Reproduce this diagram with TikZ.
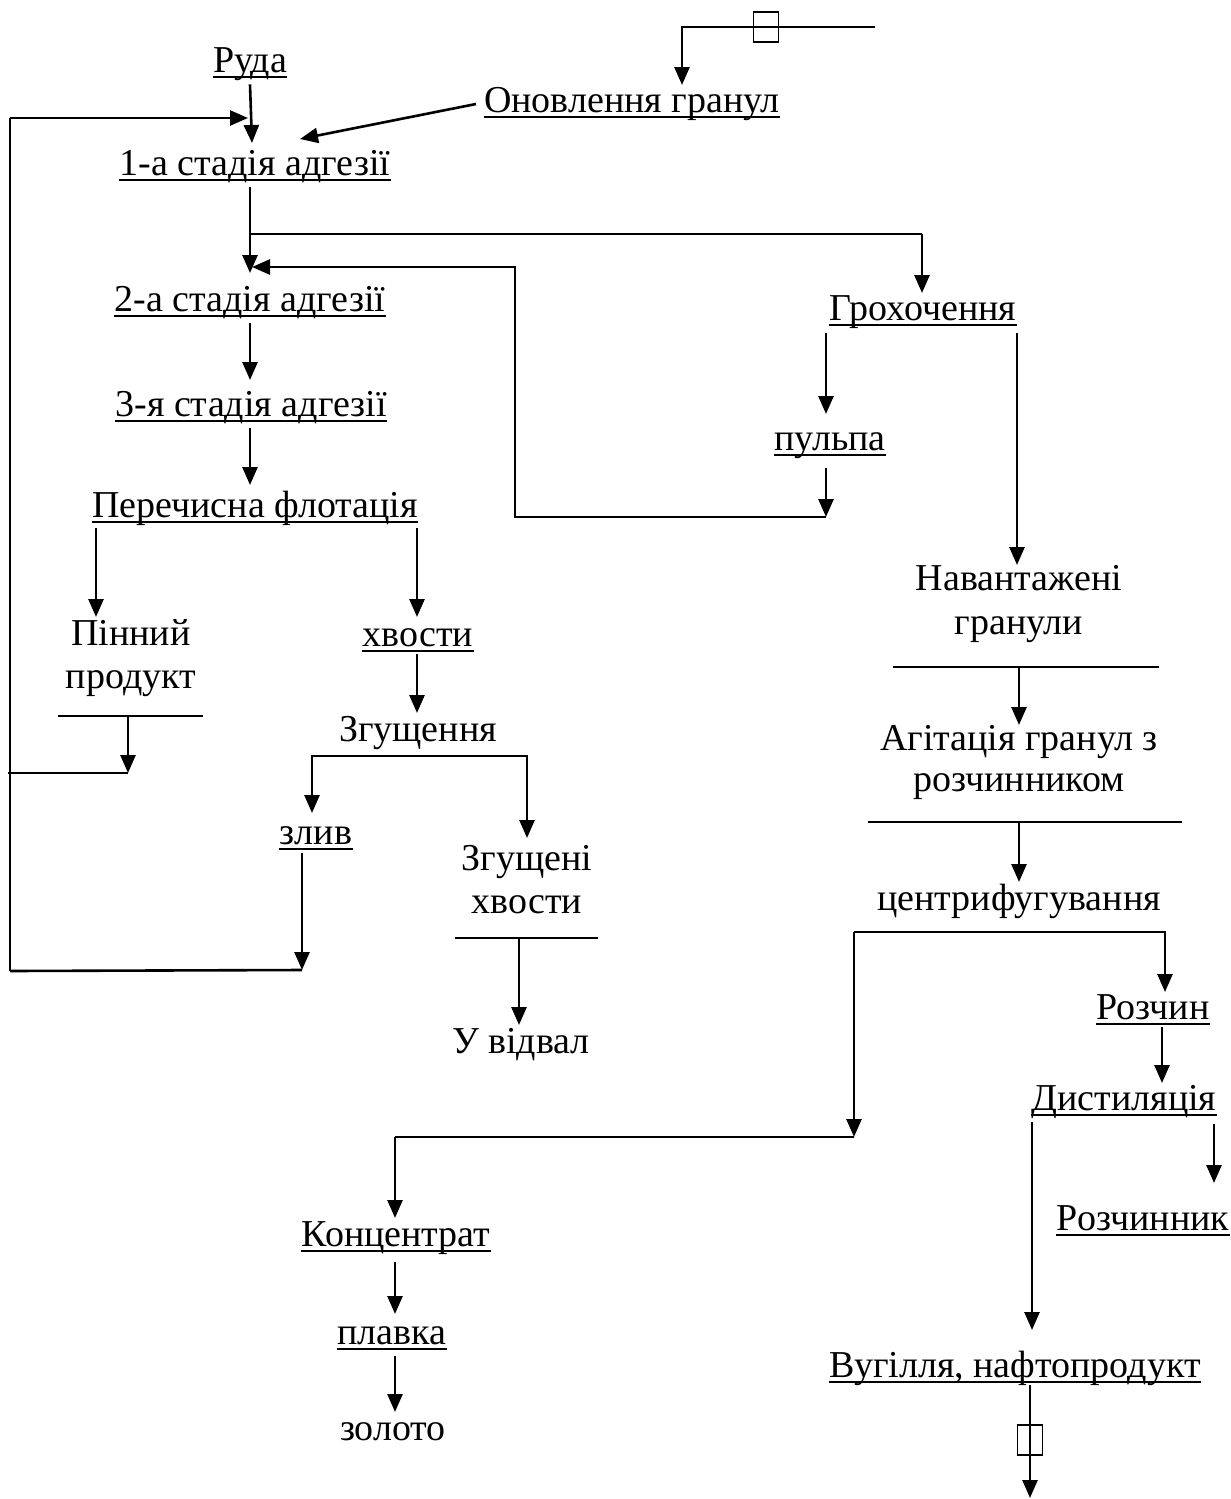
\documentclass[tikz,border=0pt]{standalone}
\usepackage{fontspec}
\setmainfont{Liberation Serif}
\usetikzlibrary{arrows.meta,calc}
\newcommand\ulnode[1]{\draw[ulline] ([yshift=-2.6pt]#1.base west) -- ([yshift=-2.6pt]#1.base east);}
\begin{document}
\begin{tikzpicture}[x=0.5pt,y=-0.5pt,
  every node/.style={font=\fontsize{19}{22}\selectfont, inner xsep=0pt, inner ysep=2.5pt, text height=13pt, text depth=3.5pt, anchor=base},
  arr/.style={-{Triangle[length=9pt,width=7.5pt]}, line width=1.3pt},
  ln/.style={line width=1.3pt},
  bar/.style={line width=1pt},
  ulline/.style={line width=1.1pt},
  valve/.style={draw, line width=0.8pt, minimum width=12.5pt, minimum height=15pt, inner sep=0pt, text height=0pt, text depth=0pt, anchor=center}]
\useasboundingbox (0,0) rectangle (1231,1499);

% ---- text nodes ----
\node (ruda) at (250,72) {Руда};
\node (onov) at (632,112) {Оновлення гранул};
\node (st1) at (255,175) {1-а стадія адгезії};
\node (st2) at (250,311) {2-а стадія адгезії};
\node (st3) at (251,416) {3-я стадія адгезії};
\node (perech) at (255,517) {Перечисна флотація};
\node (pinn1) at (131,645) {Пінний};
\node (pinn2) at (131,688) {продукт};
\node (khv) at (418,646) {хвости};
\node (zgush) at (418,741) {Згущення};
\node (zliv) at (316,844) {злив};
\node (zgh1) at (527,870) {Згущені};
\node (zgh2) at (527,913) {хвости};
\node (vidval) at (521,1053) {У відвал};
\node (grokh) at (923,320) {Грохочення};
\node (pulpa) at (830,450) {пульпа};
\node (nav1) at (1019,590) {Навантажені};
\node (nav2) at (1019,634) {гранули};
\node (agit1) at (1019,750) {Агітація гранул з};
\node (agit2) at (1019,791) {розчинником};
\node (centr) at (1019,910) {центрифугування};
\node (rozchin) at (1153,1019) {Розчин};
\node (dist) at (1124,1110) {Дистиляція};
\node (rozchnk) at (1143,1230) {Розчинник};
\node (konc) at (396,1246) {Концентрат};
\node (plavka) at (392,1344) {плавка};
\node (zoloto) at (393,1440) {золото};
\node (vug) at (1015,1377) {Вугілля, нафтопродукт};

\foreach \n in {ruda,onov,st1,st2,st3,perech,khv,zliv,grokh,pulpa,rozchin,dist,rozchnk,konc,plavka,vug}{\ulnode{\n}}

% ---- coordinates ----
\coordinate (feedR) at (875,27);
\coordinate (feedL) at (682,27);
\coordinate (onovIn) at (682,85);
\coordinate (onovOut) at (476,104);
\coordinate (st1InS) at (300,139);
\coordinate (st1InT) at (252,143);
\coordinate (loopTop) at (10,118);
\coordinate (loopIn) at (248,118);
\coordinate (loopBot) at (10,971);
\coordinate (st1Out) at (250,187);
\coordinate (br) at (250,234);
\coordinate (brR) at (922,234);
\coordinate (grokhIn) at (922,293);
\coordinate (st2In) at (250,273);
\coordinate (st2InR) at (252,267);
\coordinate (st2Out) at (250,323);
\coordinate (st3In) at (250,380);
\coordinate (st3Out) at (250,428);
\coordinate (perIn) at (250,485);
\coordinate (perL) at (96,528);
\coordinate (pinnIn) at (96,617);
\coordinate (perR) at (417,528);
\coordinate (khvIn) at (417,617);
\coordinate (khvOut) at (417,654);
\coordinate (zgIn) at (417,713);
\coordinate (zgL) at (312,756);
\coordinate (zgR) at (527,756);
\coordinate (zlivIn) at (312,813);
\coordinate (zghIn) at (527,838);
\coordinate (pinBarL) at (58,716);
\coordinate (pinBarR) at (203,716);
\coordinate (pinOut) at (128,716);
\coordinate (pinJ) at (128,773);
\coordinate (pinEnd) at (8,773);
\coordinate (zlivOut) at (302,853);
\coordinate (zlivJ) at (302,970);
\coordinate (zghBarL) at (455,938);
\coordinate (zghBarR) at (598,938);
\coordinate (zghOut) at (519,938);
\coordinate (vidIn) at (519,1025);
\coordinate (grL) at (826,333);
\coordinate (pulIn) at (826,414);
\coordinate (pulOut) at (826,468);
\coordinate (retR) at (826,517);
\coordinate (retL) at (515,517);
\coordinate (retTop) at (515,267);
\coordinate (grR) at (1017,333);
\coordinate (navIn) at (1017,565);
\coordinate (navBarL) at (893,667);
\coordinate (navBarR) at (1159,667);
\coordinate (navOut) at (1019,667);
\coordinate (agitIn) at (1019,725);
\coordinate (agBarL) at (868,822);
\coordinate (agBarR) at (1182,822);
\coordinate (agOut) at (1019,822);
\coordinate (centrIn) at (1019,882);
\coordinate (cbL) at (854,932);
\coordinate (cbR) at (1165,932);
\coordinate (rozIn) at (1165,992);
\coordinate (cbLow) at (854,1137);
\coordinate (koncJ) at (395,1137);
\coordinate (koncIn) at (395,1218);
\coordinate (koncOut) at (395,1262);
\coordinate (plIn) at (395,1314);
\coordinate (plOut) at (395,1356);
\coordinate (zolIn) at (395,1412);
\coordinate (rozOut) at (1162,1027);
\coordinate (distIn) at (1162,1083);
\coordinate (distL) at (1032,1122);
\coordinate (vugIn) at (1032,1330);
\coordinate (distR) at (1214,1124);
\coordinate (rzkIn) at (1214,1183);
\coordinate (vugOut) at (1030,1385);
\coordinate (vugEnd) at (1030,1498);

% ---- connectors ----
\draw[arr] (feedR) -- (feedL) -- (onovIn);
\node[valve] (valve1) at (766,27) {};
\draw[arr] (ruda.south) -- (st1InT);
\draw[arr] (onovOut) -- (st1InS);
\draw[ln] (loopBot) -- (loopTop);
\draw[arr] (loopTop) -- (loopIn);
\draw[arr] (st1Out) -- (st2In);
\draw[ln] (br) -- (brR);
\draw[arr] (brR) -- (grokhIn);
\draw[arr] (st2Out) -- (st3In);
\draw[arr] (st3Out) -- (perIn);
\draw[arr] (perL) -- (pinnIn);
\draw[arr] (perR) -- (khvIn);
\draw[arr] (khvOut) -- (zgIn);
\draw[arr] (zgR) -- (zgL) -- (zlivIn);
\draw[arr] (zgL) -- (zgR) -- (zghIn);
\draw[bar] (pinBarL) -- (pinBarR);
\draw[arr] (pinOut) -- (pinJ);
\draw[ln] (pinJ) -- (pinEnd);
\draw[arr] (zlivOut) -- (zlivJ);
\draw[ln] (zlivJ) -- (loopBot);
\draw[bar] (zghBarL) -- (zghBarR);
\draw[arr] (zghOut) -- (vidIn);
\draw[arr] (grL) -- (pulIn);
\draw[arr] (pulOut) -- (retR);
\draw[arr] (retR) -- (retL) -- (retTop) -- (st2InR);
\draw[arr] (grR) -- (navIn);
\draw[bar] (navBarL) -- (navBarR);
\draw[arr] (navOut) -- (agitIn);
\draw[bar] (agBarL) -- (agBarR);
\draw[arr] (agOut) -- (centrIn);
\draw[arr] (cbL) -- (cbR) -- (rozIn);
\draw[arr] (cbL) -- (cbLow);
\draw[ln] (cbLow) -- (koncJ);
\draw[arr] (koncJ) -- (koncIn);
\draw[arr] (koncOut) -- (plIn);
\draw[arr] (plOut) -- (zolIn);
\draw[arr] (rozOut) -- (distIn);
\draw[arr] (distL) -- (vugIn);
\draw[arr] (distR) -- (rzkIn);
\draw[arr] (vugOut) -- (vugEnd);
\node[valve] (valve2) at (1030,1440) {};
\end{tikzpicture}
\end{document}
